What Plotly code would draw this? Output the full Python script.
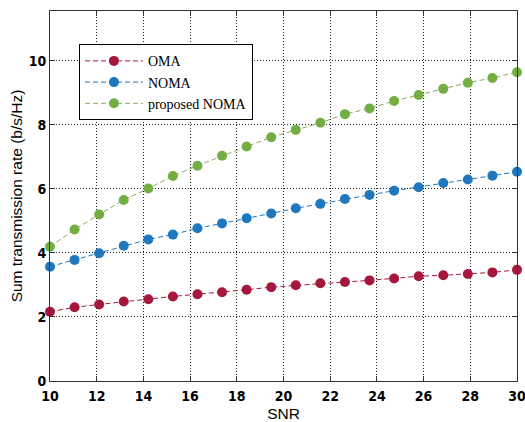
import numpy as np
import plotly.graph_objects as go

snr = list(np.linspace(10, 30, 20))

oma = [2.16, 2.30, 2.39, 2.48, 2.55, 2.64, 2.71, 2.77, 2.85, 2.93,
       2.99, 3.05, 3.09, 3.14, 3.20, 3.27, 3.30, 3.34, 3.39, 3.47]
noma = [3.57, 3.78, 3.99, 4.22, 4.42, 4.57, 4.77, 4.92, 5.08, 5.23,
        5.39, 5.53, 5.68, 5.81, 5.94, 6.05, 6.18, 6.29, 6.41, 6.53]
proposed = [4.19, 4.73, 5.20, 5.65, 6.01, 6.40, 6.72, 7.03, 7.32, 7.61,
            7.84, 8.06, 8.33, 8.51, 8.74, 8.93, 9.12, 9.31, 9.46, 9.64]

series_names = ["OMA", "NOMA", "proposed NOMA"]
series_data = [oma, noma, proposed]
marker_colors = ["#A3183C", "#1F78BE", "#72AE42"]
line_colors = ["#A3183C", "#1F78BE", "#8FA860"]

x_ticks = [10, 12, 14, 16, 18, 20, 22, 24, 26, 28, 30]
y_ticks = [0, 2, 4, 6, 8, 10]

fig = go.Figure()
for name, vals, mc, lc in zip(series_names, series_data, marker_colors, line_colors):
    fig.add_trace(go.Scatter(
        x=snr, y=vals, name=name, mode="lines+markers",
        line=dict(color=lc, width=1, dash="5px,3px"),
        marker=dict(color=mc, size=10, line=dict(width=0)),
        cliponaxis=False,
    ))

tick_font = dict(family="Liberation Sans Narrow, Arial Narrow, DejaVu Sans Condensed, sans-serif",
                 size=14, color="black", weight="bold")
title_font = dict(family="Liberation Sans, Arial, sans-serif", size=15.5, color="black")
axis_common = dict(
    showline=True, linecolor="#333333", linewidth=1, mirror="ticks",
    ticks="inside", ticklen=5, tickcolor="#333333",
    showgrid=True, gridcolor="#222222", gridwidth=1, griddash="1px,2px",
    zeroline=False, tickfont=tick_font, ticklabeloverflow="allow",
)

fig.update_layout(
    width=525, height=422,
    margin=dict(l=50, r=8, t=11, b=41, autoexpand=False),
    paper_bgcolor="white", plot_bgcolor="white",
    showlegend=True,
    legend=dict(
        x=0.062, y=0.91, xanchor="left", yanchor="top",
        bgcolor="white", bordercolor="black", borderwidth=1,
        font=dict(family="Liberation Serif, Times New Roman, serif", size=14, color="black"),
        tracegroupgap=0, itemwidth=58,
    ),
    xaxis=dict(range=[10, 30], tickvals=x_ticks,
               title=dict(text="SNR", font=title_font, standoff=6),
               ticklabelstandoff=2,
               **axis_common),
    yaxis=dict(range=[0, 11.55], tickvals=y_ticks,
               title=dict(text="Sum transmission rate (b/s/Hz)", font=title_font, standoff=2),
               **axis_common),
)

fig.write_html("out.html")
